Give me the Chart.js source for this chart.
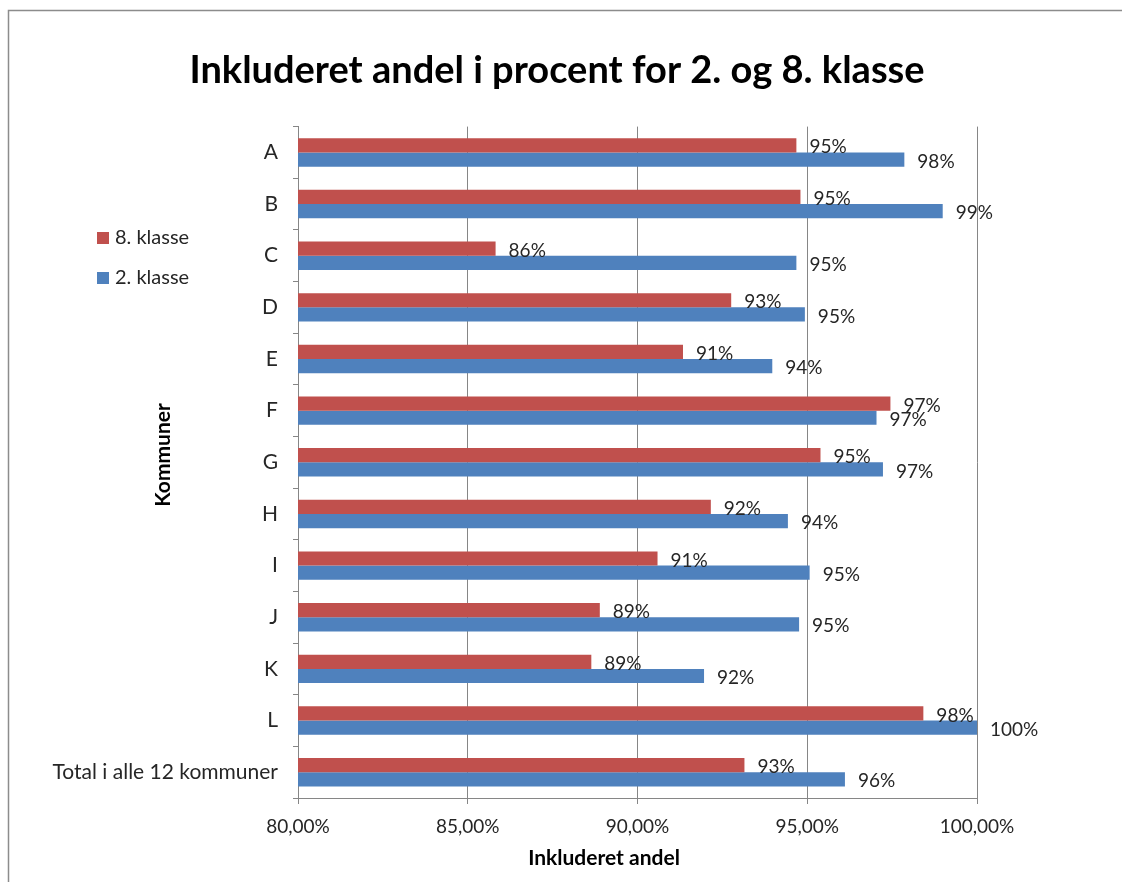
<!DOCTYPE html>
<html>
<head>
<meta charset="utf-8">
<script src="https://cdn.jsdelivr.net/npm/chart.js@4.4.1/dist/chart.umd.min.js"></script>
<style>
html, body { margin:0; padding:0; background:#fff; overflow:hidden; }
#chart { display:block; }
</style>
</head>
<body>
<canvas id="chart" width="1122" height="882"></canvas>
<script>
// Daten
const kommuner = ["A", "B", "C", "D", "E", "F", "G", "H", "I", "J", "K", "L", "Total i alle 12 kommuner"];
const klasse8 = [94.68, 94.80, 85.82, 92.76, 91.34, 97.45, 95.39, 92.16, 90.59, 88.89, 88.64, 98.42, 93.15];
const klasse2 = [97.86, 98.99, 94.68, 94.93, 93.97, 97.04, 97.23, 94.43, 95.07, 94.76, 91.96, 100.00, 96.11];
const xMin = 80, xMax = 100, xStep = 5;

const chartTitle = "Inkluderet andel i procent for 2. og 8. klasse";
const xTitle = "Inkluderet andel";
const yTitle = "Kommuner";

const RED = "#C0504D";
const BLUE = "#4F81BD";
const GRID = "#868686";
const TEXT = "#262626";
const FONT = "Lato, 'Liberation Sans', sans-serif";

// Rahmen + Hintergrund
const framePlugin = {
    id: "frame",
    beforeDraw(chart){
        const ctx = chart.ctx;
        ctx.save();
        ctx.fillStyle = "#fff";
        ctx.fillRect(0, 0, chart.width, chart.height);
        ctx.strokeStyle = "#8c8c8c";
        ctx.lineWidth = 1.5;
        ctx.strokeRect(8.5, 10.5, chart.width + 20, chart.height + 20);
        ctx.restore();
    }
};

// Werte an den Balken
const valueLabels = {
    id: "valueLabels",
    afterDatasetsDraw(chart){
        const ctx = chart.ctx;
        ctx.save();
        ctx.font = "19px " + FONT;
        ctx.fillStyle = TEXT;
        ctx.textAlign = "left";
        ctx.textBaseline = "middle";
        chart.data.datasets.forEach((ds, i) => {
            chart.getDatasetMeta(i).data.forEach((bar, j) => {
                ctx.fillText(Math.round(ds.data[j]) + "%", bar.x + 13, bar.y + 2);
            });
        });
        ctx.restore();
    }
};

// Legende links + Achsentitel
const extras = {
    id: "extras",
    afterDraw(chart){
        const ctx = chart.ctx;
        const area = chart.chartArea;
        ctx.save();
        // Legende
        ctx.font = "20px " + FONT;
        ctx.textBaseline = "middle";
        ctx.textAlign = "left";
        chart.data.datasets.forEach((ds, i) => {
            const y = 238 + i * 40;
            ctx.fillStyle = ds.backgroundColor;
            ctx.fillRect(97, y - 6, 12, 12);
            ctx.fillStyle = TEXT;
            ctx.fillText(ds.label, 115, y);
        });
        // x-Achsentitel
        ctx.font = "bold 21px " + FONT;
        ctx.fillStyle = "#000";
        ctx.textAlign = "center";
        ctx.fillText(xTitle, area.left + 306, 858);
        // y-Achsentitel
        ctx.translate(163, 455);
        ctx.rotate(-Math.PI / 2);
        ctx.fillText(yTitle, 0, 0);
        ctx.restore();
    }
};

new Chart(document.getElementById("chart"), {
    type: "bar",
    data: {
        labels: kommuner,
        datasets: [
            { label: "8. klasse", data: klasse8, backgroundColor: RED },
            { label: "2. klasse", data: klasse2, backgroundColor: BLUE }
        ]
    },
    options: {
        indexAxis: "y",
        responsive: false,
        animation: false,
        events: [],
        layout: { padding: { top: 0, right: 8, bottom: 0, left: 0 } },
        datasets: { bar: { categoryPercentage: 0.55, barPercentage: 1, borderWidth: 0 } },
        plugins: {
            legend: { display: false },
            tooltip: { enabled: false },
            title: {
                display: true,
                text: chartTitle,
                color: "#000",
                font: { family: FONT, size: 38, weight: "bold", lineHeight: 1.2 },
                padding: { top: 48, bottom: 33 }
            }
        },
        scales: {
            x: {
                min: xMin, max: xMax,
                afterFit(scale){ scale.height = 84; },
                ticks: {
                    stepSize: xStep,
                    color: TEXT,
                    padding: 11,
                    font: { family: FONT, size: 19 },
                    callback: v => v.toFixed(2).replace(".", ",") + "%"
                },
                grid: { color: GRID, tickLength: 6 },
                border: { color: GRID }
            },
            y: {
                afterFit(scale){ scale.width = 298; },
                ticks: {
                    color: TEXT,
                    padding: 15,
                    font: { family: FONT, size: 21 }
                },
                grid: { offset: true, drawOnChartArea: false, color: GRID, tickLength: 5 },
                border: { color: GRID }
            },
            // leerer Platz rechts fuer die Wertebeschriftung
            rechts: {
                type: "linear",
                position: "right",
                afterFit(scale){ scale.width = 137; },
                ticks: { display: false },
                grid: { display: false },
                border: { display: false }
            }
        }
    },
    plugins: [framePlugin, valueLabels, extras]
});
</script>
</body>
</html>
